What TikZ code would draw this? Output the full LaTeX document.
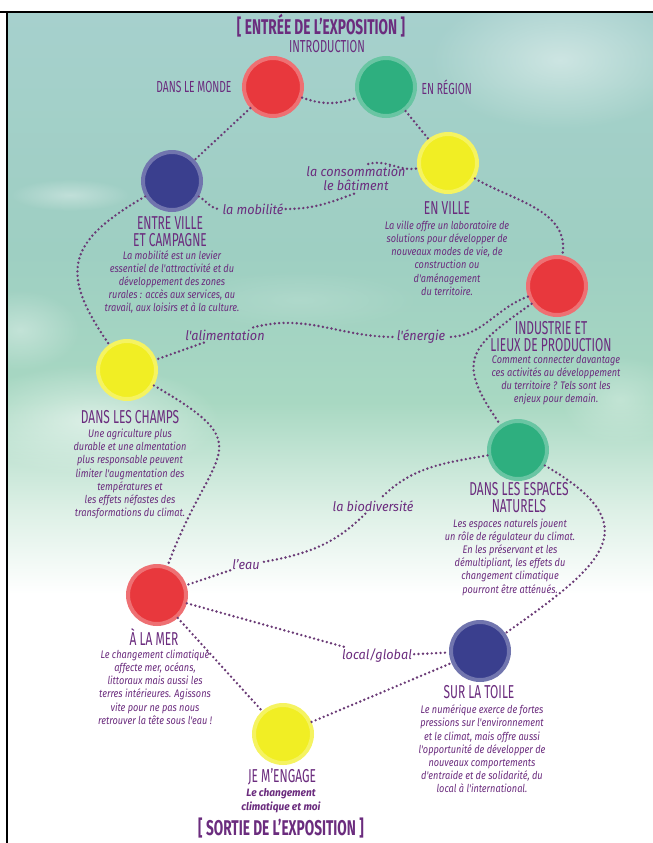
\documentclass[tikz,border=0pt]{standalone}
\usepackage{fontspec}
\setmainfont{Fira Sans}
\newfontfamily\headfont[FakeStretch=0.64]{Fira Sans}
\newfontfamily\bodyfont[FakeStretch=0.84]{Fira Sans}
\newfontfamily\linkfont[FakeStretch=0.95]{Fira Sans}
\usetikzlibrary{positioning,fadings}

\definecolor{purp}{HTML}{6B2C7E}
\definecolor{dotc}{HTML}{6A3A76}
\definecolor{discred}{HTML}{E8383D}
\definecolor{discgreen}{HTML}{2EAF7F}
\definecolor{discyellow}{HTML}{F1EE24}
\definecolor{discblue}{HTML}{3A3F8E}
\definecolor{skyA}{HTML}{DDF0E6}
\definecolor{skyB}{HTML}{A8D8C2}
\definecolor{skyC}{HTML}{9ECFC2}
\definecolor{skyD}{HTML}{A6D0CD}

\pgfdeclareverticalshading{skyshade}{100bp}{color(0bp)=(white); color(40bp)=(white);
  color(45bp)=(skyA); color(51.5bp)=(skyB); color(60.5bp)=(skyC); color(75bp)=(skyD); color(100bp)=(skyD)}
\tikzfading[name=cloudfade, inner color=transparent!0, outer color=transparent!100]

\begin{document}
\begin{tikzpicture}[x=0.75pt, y=0.75pt,
  disc/.style={circle, inner sep=0pt, minimum size=43.5pt, fill=#1, draw=#1!72!white, line width=3pt},
  head/.style={font=\headfont\fontsize{14}{12.75}\selectfont, text=purp, align=center, inner sep=1pt},
  banner/.style={font=\headfont\bfseries\fontsize{16}{16}\selectfont, text=purp, inner sep=0pt},
  desc/.style={font=\bodyfont\itshape\fontsize{8.2}{9.9}\selectfont, text=purp, align=center, inner sep=1pt},
  theme/.style={font=\linkfont\itshape\fontsize{10}{10.5}\selectfont, text=purp, align=center, inner sep=1.5pt},
  link/.style={draw=dotc, line width=2pt, line cap=round, dash pattern=on 0pt off 3.3pt}]

% Page, sky and frame
\useasboundingbox (0,0) rectangle (653,-843);
\fill[white] (0,0) rectangle (653,-843);
\shade[shading=skyshade] (7,-12) rectangle (653,-843);
\foreach \cx/\cy/\rx/\ry/\op in {70/195/60/16/0.35, 90/420/130/55/0.55, 20/330/60/40/0.35, 560/60/130/70/0.45, 620/400/60/45/0.3, 300/300/120/30/0.15}
  \fill[white, path fading=cloudfade, fill opacity=\op] (\cx,-\cy) ellipse ({\rx} and {\ry});
\draw[line width=2.2pt] (0,-12) -- (653,-12);
\draw[line width=1.5pt] (7,-12) -- (7,-843);

% Theme circles
\node[disc=discred] (monde) at (273,-87) {};
\node[disc=discgreen] (region) at (386,-87) {};
\node[disc=discblue] (campagne) at (172,-181) {};
\node[disc=discyellow] (ville) at (448,-163) {};
\node[disc=discred] (industrie) at (557,-286) {};
\node[disc=discyellow] (champs) at (127,-370) {};
\node[disc=discgreen] (espaces) at (518,-450) {};
\node[disc=discred] (mer) at (157,-595) {};
\node[disc=discblue] (toile) at (480,-651) {};
\node[disc=discyellow] (engage) at (283,-734) {};

% Entry and exit
\node[banner] (entree) at (321,-26) {[\,ENTRÉE DE L’EXPOSITION\,]};
\node[head, font=\headfont\fontsize{13}{13}\selectfont, inner sep=0pt] (intro) at (327,-47) {INTRODUCTION};
\node[banner] (sortie) at (281,-828) {[\,SORTIE DE L’EXPOSITION\,]};

% Titles
\node[head, font=\headfont\fontsize{12}{12}\selectfont, anchor=east] (mondet) at (233,-87) {DANS LE MONDE};
\node[head, font=\headfont\fontsize{12}{12}\selectfont, anchor=west] (regiont) at (420,-87) {EN RÉGION};
\node[head] (campagnet) at (170,-231.5) {ENTRE VILLE\\ET CAMPAGNE};
\node[head] (villet) at (447,-208) {EN VILLE};
\node[head] (industriet) at (551,-337) {INDUSTRIE ET\\LIEUX DE PRODUCTION};
\node[head] (champst) at (130,-417) {DANS LES CHAMPS};
\node[head] (espacest) at (519,-497.5) {DANS LES ESPACES\\NATURELS};
\node[head] (mert) at (154,-637) {À LA MER};
\node[head] (toilet) at (479,-692) {SUR LA TOILE};
\node[head] (engaget) at (282,-777) {JE M’ENGAGE};

% Descriptions
\node[desc] (campagned) at (172,-282) {La mobilité est un levier\\essentiel de l'attractivité et du\\développement des zones\\rurales : accès aux services, au\\travail, aux loisirs et à la culture.};
\node[desc] (villed) at (447,-258) {La ville offre un laboratoire de\\solutions pour développer de\\nouveaux modes de vie, de\\construction ou\\d'aménagement\\du territoire.};
\node[desc] (industried) at (556,-380) {Comment connecter davantage\\ces activités au développement\\du territoire ? Tels sont les\\enjeux pour demain.};
\node[desc] (champsd) at (130,-474) {Une agriculture plus\\durable et une almentation\\plus responsable peuvent\\limiter l'augmentation des\\températures et\\les effets néfastes des\\transformations du climat.};
\node[desc] (espacesd) at (510,-557) {Les espaces naturels jouent\\un rôle de régulateur du climat.\\En les préservant et les\\démultipliant, les effets du\\changement climatique\\pourront être atténués.};
\node[desc] (merd) at (155,-687) {Le changement climatique\\affecte mer, océans,\\littoraux mais aussi les\\terres intérieures. Agissons\\vite pour ne pas nous\\retrouver la tête sous l'eau !};
\node[desc] (toiled) at (482,-749) {Le numérique exerce de fortes\\pressions sur l'environnement\\et le climat, mais offre aussi\\l'opportunité de développer de\\nouveaux comportements\\d'entraide et de solidarité, du\\local à l'international.};
\node[desc, font=\linkfont\bfseries\itshape\fontsize{8}{10.5}\selectfont] (engaged) at (281,-801) {Le changement\\climatique et moi};

% Link themes
\node[theme] (mobilite) at (253,-209) {la mobilité};
\node[theme] (conso) at (356,-178.5) {la consommation\\le bâtiment};
\node[theme] (alimentation) at (225,-335) {l'alimentation};
\node[theme] (energie) at (421,-337) {l'énergie};
\node[theme] (biodiv) at (373,-506) {la biodiversité};
\node[theme] (eau) at (246,-565) {l’eau};
\node[theme] (global) at (377,-656) {local/global};

% Dotted connectors
\draw[link] (monde) to[out=-20, in=200] (region);
\draw[link] (region) -- (ville);
\draw[link] (monde) -- (campagne);
\draw[link] (campagne) to[out=-30, in=180] (mobilite);
\draw[link] (mobilite) to[out=0, in=-160] (conso.south);
\draw[link] (conso.50) to[out=15, in=190] (ville);
\draw[link] (ville) to[out=-30, in=80] (industrie);
\draw[link] (industrie) to[out=200, in=0] (energie);
\draw[link] (alimentation) to[out=15, in=180] (energie);
\draw[link] (alimentation) -- (champs);
\draw[link] (industrie) to[out=215, in=125, looseness=1.6] (espaces);
\draw[link] (campagne) to[out=210, in=125, looseness=1.5] (champs);
\draw[link] (champs) to[out=-30, in=70, looseness=1.8] (mer);
\draw[link] (espaces) to[out=190, in=45] (biodiv);
\draw[link] (biodiv) to[out=225, in=10] (eau);
\draw[link] (eau) -- (mer);
\draw[link] (mer) -- (global);
\draw[link] (global) -- (toile);
\draw[link] (mer) -- (engage);
\draw[link] (engage) -- (toile);
\draw[link] (espaces) to[out=-30, in=35, looseness=1.8] (toile);

\end{tikzpicture}
\end{document}
